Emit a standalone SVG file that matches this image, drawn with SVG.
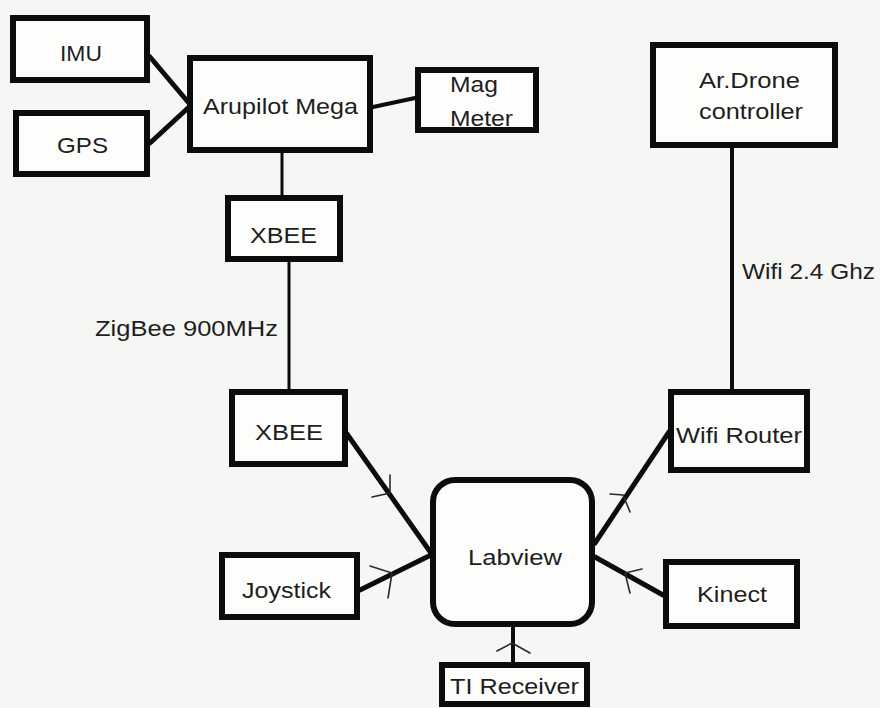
<svg xmlns="http://www.w3.org/2000/svg" width="880" height="708" viewBox="0 0 880 708">
<style>
.box{fill:#fdfdfc;stroke:#0c0c0c;stroke-width:6}
.t{font-family:"Liberation Sans",Arial,sans-serif;font-size:22px;fill:#1e1e1e}
.c{stroke:#0c0c0c;fill:none;stroke-linecap:round}
.ah{stroke:#2a2a2a;stroke-width:1.6;fill:none;stroke-linecap:round}
</style>
<rect width="880" height="708" fill="#f6f6f4"/>
<g id="connectors">
<line class="c" x1="150" y1="57" x2="188" y2="102" stroke-width="5"/>
<line class="c" x1="150" y1="143" x2="188" y2="108" stroke-width="5"/>
<line class="c" x1="373" y1="107" x2="415" y2="98" stroke-width="4"/>
<line class="c" x1="282" y1="153" x2="282" y2="195" stroke-width="3"/>
<line class="c" x1="289" y1="262" x2="289" y2="389" stroke-width="3"/>
<line class="c" x1="732" y1="148" x2="732" y2="389" stroke-width="4"/>
<line class="c" x1="347" y1="434" x2="431" y2="553" stroke-width="5"/>
<line class="c" x1="360" y1="590" x2="431" y2="555" stroke-width="5"/>
<line class="c" x1="595" y1="543" x2="669" y2="432" stroke-width="5"/>
<line class="c" x1="663" y1="595" x2="595" y2="557" stroke-width="5"/>
<line class="c" x1="513" y1="627" x2="513" y2="663" stroke-width="4"/>
<polyline class="ah" points="390,475 390,493 372,497"/>
<polyline class="ah" points="370,566 392,573 388,598"/>
<polyline class="ah" points="610,494 623,495 630,512"/>
<polyline class="ah" points="642,569 625,573 630,593"/>
<polyline class="ah" points="497,651 512,643 530,653"/>
<text class="t" x="95" y="336" textLength="183" lengthAdjust="spacingAndGlyphs">ZigBee 900MHz</text>
<text class="t" x="742" y="279" textLength="133" lengthAdjust="spacingAndGlyphs">Wifi 2.4 Ghz</text>
</g>
<g id="imu"><rect class="box" x="13" y="18" width="134" height="62"/><text class="t" x="60" y="61" textLength="42" lengthAdjust="spacingAndGlyphs">IMU</text></g>
<g id="gps"><rect class="box" x="16" y="113" width="131" height="61"/><text class="t" x="57" y="153" textLength="51" lengthAdjust="spacingAndGlyphs">GPS</text></g>
<g id="arupilot"><rect class="box" x="190" y="58" width="180" height="92"/><text class="t" x="203" y="114" textLength="155" lengthAdjust="spacingAndGlyphs">Arupilot Mega</text></g>
<g id="magmeter"><rect class="box" x="418" y="70" width="118" height="60" stroke-width="5"/><text class="t" x="450" y="92" textLength="48" lengthAdjust="spacingAndGlyphs">Mag</text><text class="t" x="450" y="126" textLength="63" lengthAdjust="spacingAndGlyphs">Meter</text></g>
<g id="xbee1"><rect class="box" x="228" y="198" width="112" height="61"/><text class="t" x="250" y="243" textLength="67" lengthAdjust="spacingAndGlyphs">XBEE</text></g>
<g id="ardrone"><rect class="box" x="653" y="45" width="182" height="100"/><text class="t" x="699" y="88" textLength="101" lengthAdjust="spacingAndGlyphs">Ar.Drone</text><text class="t" x="699" y="119" textLength="104" lengthAdjust="spacingAndGlyphs">controller</text></g>
<g id="xbee2"><rect class="box" x="232" y="392" width="113" height="72"/><text class="t" x="255" y="440" textLength="68" lengthAdjust="spacingAndGlyphs">XBEE</text></g>
<g id="wifirouter"><rect class="box" x="671" y="392" width="136" height="78"/><text class="t" x="676" y="443" textLength="126" lengthAdjust="spacingAndGlyphs">Wifi Router</text></g>
<g id="labview"><rect class="box" x="433" y="480" width="159" height="144" rx="22"/><text class="t" x="468" y="565" textLength="94" lengthAdjust="spacingAndGlyphs">Labview</text></g>
<g id="joystick"><rect class="box" x="222" y="555" width="135" height="62"/><text class="t" x="242" y="598" textLength="89" lengthAdjust="spacingAndGlyphs">Joystick</text></g>
<g id="kinect"><rect class="box" x="666" y="562" width="131" height="64"/><text class="t" x="697" y="602" textLength="70" lengthAdjust="spacingAndGlyphs">Kinect</text></g>
<g id="tireceiver"><rect class="box" x="442" y="665" width="145" height="39"/><text class="t" x="450" y="694" textLength="129" lengthAdjust="spacingAndGlyphs">TI Receiver</text></g>
</svg>
